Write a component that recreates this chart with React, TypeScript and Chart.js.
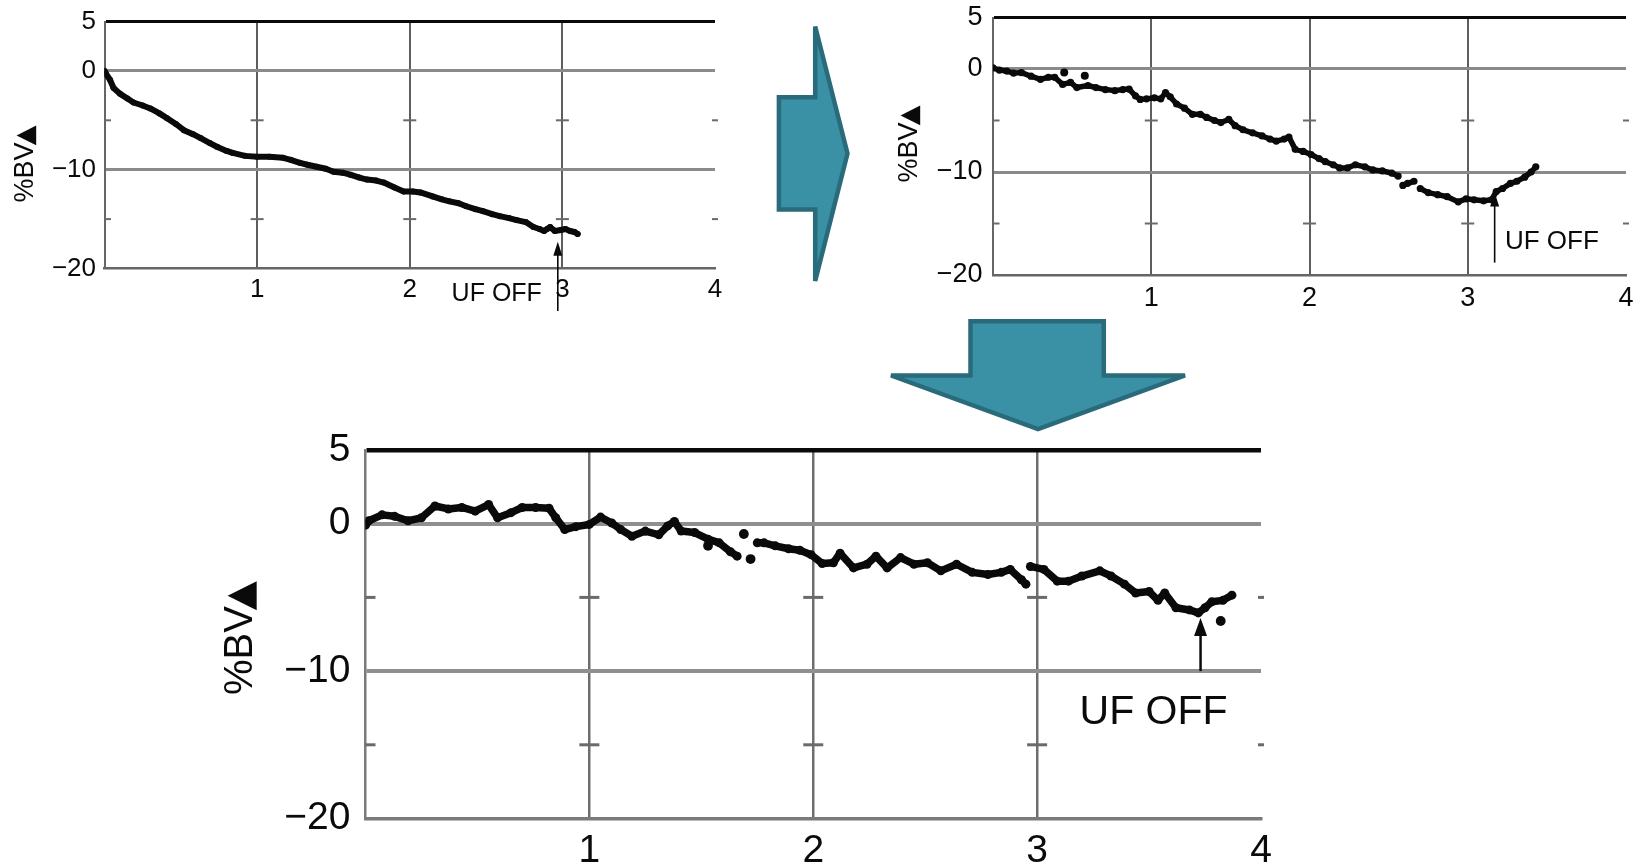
import React, { useEffect, useRef } from 'react';
import { Chart, registerables } from 'chart.js';

Chart.register(...registerables);

// ---------- text / tick labels ----------
const xTickValues = [1, 2, 3, 4];
const yTickLabelValues = [5, 0, -10, -20];
const yMinorTickValues = [-5, -15];
const xMarkValues = [0, 1, 2, 3, 4];
const axisTitleText = '%BV';
const axisTitleMark = '▲';
const ufLabel = 'UF OFF';

// ---------- panel 1 (top left) ----------
const hours1 = [0, 0.01, 0.036, 0.058, 0.1, 0.15, 0.19, 0.25, 0.3, 0.36, 0.41, 0.47, 0.52, 0.58, 0.63, 0.69, 0.74, 0.8, 0.84, 0.92, 1.0, 1.08, 1.17, 1.22, 1.28, 1.33, 1.39, 1.45, 1.5, 1.56, 1.61, 1.67, 1.72, 1.78, 1.83, 1.9, 1.96, 2.02, 2.07, 2.15, 2.21, 2.26, 2.32, 2.37, 2.43, 2.48, 2.54, 2.59, 2.65, 2.7, 2.76, 2.81, 2.85, 2.88, 2.9, 2.92, 2.95, 2.99, 3.02, 3.05, 3.08, 3.1];
const bv1 = [0, -0.3, -0.9, -1.7, -2.3, -2.8, -3.2, -3.5, -3.8, -4.3, -4.8, -5.4, -6.0, -6.4, -6.8, -7.3, -7.7, -8.1, -8.3, -8.6, -8.7, -8.7, -8.8, -9.0, -9.3, -9.5, -9.7, -9.9, -10.2, -10.3, -10.5, -10.8, -11.0, -11.1, -11.3, -11.8, -12.2, -12.2, -12.3, -12.7, -13.0, -13.2, -13.4, -13.7, -14.0, -14.2, -14.5, -14.7, -14.9, -15.1, -15.3, -15.8, -16.0, -16.2, -16.0, -15.8, -16.2, -16.1, -16.0, -16.2, -16.3, -16.5];
const strayHours1: number[] = [];
const strayBv1: number[] = [];
const ufOff1 = { x: 2.97, tip: -17.3, tail: -24.3 };

// ---------- panel 2 (top right) ----------
const hours2 = [0, 0.04, 0.087, 0.13, 0.18, 0.24, 0.3, 0.35, 0.39, 0.44, 0.49, 0.53, 0.6, 0.65, 0.71, 0.77, 0.82, 0.86, 0.9, 0.93, 0.97, 1.02, 1.06, 1.09, 1.12, 1.16, 1.21, 1.26, 1.31, 1.35, 1.4, 1.44, 1.49, 1.53, 1.58, 1.64, 1.7, 1.75, 1.79, 1.84, 1.87, 1.91, 1.96, 2.01, 2.06, 2.1, 2.15, 2.19, 2.24, 2.29, 2.35, 2.4, 2.46, 2.52, 2.56, 2.575, 2.59, 2.62, 2.66, 2.68, 2.7, 2.75, 2.81, 2.87, 2.94, 2.99, 3.04, 3.1, 3.15, 3.18, 3.22, 3.27, 3.31, 3.36, 3.4, 3.43];
const bv2 = [0.1, -0.1, -0.2, -0.4, -0.35, -0.7, -1.0, -0.8, -0.8, -1.5, -1.3, -1.8, -1.6, -1.8, -2.0, -2.1, -2.0, -1.95, -2.6, -2.95, -2.9, -2.8, -2.9, -2.3, -2.7, -3.4, -3.8, -4.4, -4.4, -4.7, -5.0, -5.2, -4.9, -5.5, -5.9, -6.2, -6.5, -6.8, -7.0, -6.8, -6.6, -7.8, -8.0, -8.3, -8.7, -9.0, -9.3, -9.6, -9.6, -9.3, -9.5, -9.8, -9.9, -10.1, -10.4, null, -11.3, -11.1, -10.9, null, -11.6, -12.0, -12.2, -12.4, -12.9, -12.6, -12.7, -12.8, -12.7, -11.9, -11.6, -11.1, -10.9, -10.5, -10.0, -9.5];
const strayHours2 = [0.45, 0.58];
const strayBv2 = [-0.35, -0.65];
const ufOff2 = { x: 3.17, tip: -12.0, tail: -18.8 };

// ---------- panel 3 (bottom) ----------
const hours3 = [0, 0.015, 0.074, 0.13, 0.19, 0.25, 0.31, 0.37, 0.43, 0.49, 0.55, 0.59, 0.65, 0.7, 0.76, 0.82, 0.85, 0.89, 0.94, 1.0, 1.05, 1.1, 1.14, 1.19, 1.25, 1.31, 1.35, 1.38, 1.41, 1.47, 1.53, 1.58, 1.63, 1.66, 1.7, 1.75, 1.78, 1.83, 1.89, 1.94, 1.99, 2.04, 2.09, 2.12, 2.18, 2.24, 2.28, 2.33, 2.39, 2.45, 2.51, 2.57, 2.64, 2.71, 2.78, 2.84, 2.88, 2.93, 2.95, 2.96, 2.97, 3.03, 3.09, 3.14, 3.2, 3.28, 3.33, 3.39, 3.44, 3.5, 3.54, 3.57, 3.62, 3.68, 3.72, 3.75, 3.78, 3.83, 3.87];
const bv3 = [-0.1, 0.2, 0.6, 0.5, 0.2, 0.4, 1.2, 1.0, 1.1, 0.85, 1.3, 0.4, 0.75, 1.1, 1.1, 1.05, 0.4, -0.4, -0.2, -0.05, 0.45, 0.05, -0.4, -0.85, -0.5, -0.75, -0.15, 0.15, -0.5, -0.6, -1.05, -1.3, -1.9, -2.2, null, -1.3, -1.3, -1.5, -1.7, -1.8, -2.1, -2.7, -2.65, -2.0, -3.0, -2.75, -2.2, -3.0, -2.3, -2.75, -2.65, -3.2, -2.75, -3.3, -3.45, -3.3, -3.1, -3.8, -4.1, null, -2.9, -3.1, -3.9, -3.9, -3.55, -3.2, -3.55, -4.1, -4.7, -4.6, -5.2, -4.7, -5.7, -5.85, -6.05, -5.7, -5.3, -5.2, -4.85];
const strayHours3 = [1.53, 1.69, 1.72, 3.82];
const strayBv3 = [-1.5, -0.7, -2.4, -6.6];
const ufOff3 = { x: 3.73, tip: -6.4, tail: -10 };

const FONT = '"Liberation Sans", Arial, "DejaVu Sans", sans-serif';
const MARK_FONT = '"DejaVu Sans", sans-serif';
const INK = '#0a0a0a';

const fmt = (v: number) => (v < 0 ? '\u2212' + Math.abs(v) : String(v));

const decorPlugin = {
  id: 'decor',
  beforeDatasetsDraw(chart: any, _args: any, o: any) {
    const { ctx } = chart;
    const xs = chart.scales.x;
    const ys = chart.scales.y;
    ctx.save();
    ctx.strokeStyle = '#6a6a6a';
    ctx.lineWidth = o.minorW;
    for (const v of yMinorTickValues) {
      const py = ys.getPixelForValue(v);
      for (const m of xMarkValues) {
        const px = xs.getPixelForValue(m);
        let a = px - o.minorLen / 2;
        let b = px + o.minorLen / 2;
        if (m === 0) a = px;
        if (m === 4) { a = px - 3; b = px + 3; }
        ctx.beginPath();
        ctx.moveTo(a, py);
        ctx.lineTo(b, py);
        ctx.stroke();
      }
    }
    ctx.restore();
  },
  afterDatasetsDraw(chart: any, _args: any, o: any) {
    const { ctx } = chart;
    const xs = chart.scales.x;
    const ys = chart.scales.y;
    ctx.save();
    // UF OFF arrow
    const ax = xs.getPixelForValue(o.uf.x);
    const tipY = ys.getPixelForValue(o.uf.tip);
    const tailY = ys.getPixelForValue(o.uf.tail);
    ctx.strokeStyle = INK;
    ctx.fillStyle = INK;
    ctx.lineWidth = o.arrowW;
    ctx.beginPath();
    ctx.moveTo(ax, tailY);
    ctx.lineTo(ax, tipY + o.headH * 0.6);
    ctx.stroke();
    ctx.beginPath();
    ctx.moveTo(ax, tipY);
    ctx.lineTo(ax - o.headW / 2, tipY + o.headH);
    ctx.lineTo(ax + o.headW / 2, tipY + o.headH);
    ctx.closePath();
    ctx.fill();
    // UF OFF text
    ctx.font = `${o.ufFont}px ${FONT}`;
    ctx.textAlign = o.ufAlign;
    ctx.textBaseline = 'middle';
    ctx.fillText(ufLabel, xs.getPixelForValue(o.ufTextX), ys.getPixelForValue(o.ufTextY));
    // y-axis title: "%BV" followed by a filled triangle glyph
    ctx.translate(o.titleX, o.titleY);
    ctx.rotate(-Math.PI / 2);
    ctx.font = `${o.titleFont}px ${FONT}`;
    const w1 = ctx.measureText(axisTitleText).width;
    const markSize = o.titleFont * 0.95;
    ctx.font = `${markSize}px ${MARK_FONT}`;
    const w2 = ctx.measureText(axisTitleMark).width;
    const gap = -o.titleFont * 0.1;
    const total = w1 + gap + w2;
    ctx.textAlign = 'left';
    ctx.textBaseline = 'alphabetic';
    const base = o.titleFont * 0.36;
    ctx.font = `${o.titleFont}px ${FONT}`;
    ctx.fillText(axisTitleText, -total / 2, base);
    ctx.font = `${markSize}px ${MARK_FONT}`;
    ctx.fillText(axisTitleMark, -total / 2 + w1 + gap, base);
    ctx.restore();
  },
};

type Spec = {
  left: number; top: number; width: number; height: number;
  yAxisWidth: number; xAxisHeight: number; padTop: number; padRight: number;
  tickFont: number; xPad: number; yPad: number;
  titleX: number; titleY: number; titleFont: number;
  uf: { x: number; tip: number; tail: number };
  ufTextX: number; ufTextY: number; ufFont: number; ufAlign: string;
  arrowW: number; headW: number; headH: number;
  hours: number[]; bv: (number | null)[]; strayHours: number[]; strayBv: number[];
  lineWidth: number; pointRadius: number;
  topW: number; midW: number; midColor: string; vColor: string; vW: number;
  bottomColor: string; bottomW: number; leftColor: string; leftW: number;
  minorLen: number; minorW: number;
};

const zeroPadding = (sc: any) => {
  sc.paddingTop = 0;
  sc.paddingBottom = 0;
  sc.paddingLeft = 0;
  sc.paddingRight = 0;
};

function BVChart({ s }: { s: Spec }) {
  const ref = useRef<HTMLCanvasElement>(null);
  useEffect(() => {
    const main = s.hours.map((x, i) => ({ x, y: s.bv[i] }));
    const stray = s.strayHours.map((x, i) => ({ x, y: s.strayBv[i] }));
    const tickFont = { family: FONT, size: s.tickFont, lineHeight: 1.2 };
    const chart = new Chart(ref.current as HTMLCanvasElement, {
      type: 'line',
      data: {
        datasets: [
          {
            data: main as any,
            borderColor: INK,
            backgroundColor: INK,
            borderWidth: s.lineWidth,
            pointRadius: s.pointRadius,
            pointBorderWidth: 0,
            tension: 0,
            spanGaps: false,
            borderJoinStyle: 'round',
            borderCapStyle: 'round',
          },
          {
            data: stray as any,
            showLine: false,
            backgroundColor: INK,
            borderColor: INK,
            pointRadius: s.pointRadius + 0.4,
            pointBorderWidth: 0,
          },
        ],
      },
      options: {
        responsive: false,
        animation: false,
        events: [],
        layout: { padding: { left: 0, top: s.padTop, right: s.padRight, bottom: 0 } },
        plugins: {
          legend: { display: false },
          tooltip: { enabled: false },
          decor: {
            minorLen: s.minorLen, minorW: s.minorW, uf: s.uf, arrowW: s.arrowW,
            headW: s.headW, headH: s.headH, ufFont: s.ufFont, ufAlign: s.ufAlign,
            ufTextX: s.ufTextX, ufTextY: s.ufTextY, titleX: s.titleX, titleY: s.titleY,
            titleFont: s.titleFont,
          },
        } as any,
        scales: {
          x: {
            type: 'linear',
            min: 0,
            max: 4,
            afterFit: (sc: any) => { sc.height = s.xAxisHeight; zeroPadding(sc); },
            ticks: {
              stepSize: 1,
              autoSkip: false,
              maxRotation: 0,
              padding: s.xPad,
              font: tickFont,
              color: INK,
              callback: (v: any) => (xTickValues.includes(Number(v)) ? String(v) : ''),
            },
            grid: {
              drawTicks: false,
              color: (c: any) => (c.tick && (c.tick.value === 0 || c.tick.value === 4) ? 'rgba(0,0,0,0)' : s.vColor),
              lineWidth: s.vW,
            },
            border: { display: true, color: s.bottomColor, width: s.bottomW },
          },
          y: {
            type: 'linear',
            min: -20,
            max: 5,
            afterFit: (sc: any) => { sc.width = s.yAxisWidth; zeroPadding(sc); },
            ticks: {
              stepSize: 5,
              autoSkip: false,
              padding: s.yPad,
              font: tickFont,
              color: INK,
              callback: (v: any) => (yTickLabelValues.includes(Number(v)) ? fmt(Number(v)) : ''),
            },
            grid: {
              drawTicks: false,
              color: (c: any) => {
                const v = c.tick ? c.tick.value : null;
                if (v === 5) return '#0a0a0a';
                if (v === 0 || v === -10) return s.midColor;
                return 'rgba(0,0,0,0)';
              },
              lineWidth: (c: any) => {
                const v = c.tick ? c.tick.value : null;
                if (v === 5) return s.topW;
                if (v === 0 || v === -10) return s.midW;
                return 1;
              },
            },
            border: { display: true, color: s.leftColor, width: s.leftW },
          },
        },
      },
      plugins: [decorPlugin as any],
    });
    return () => chart.destroy();
  }, []);
  return (
    <canvas
      ref={ref}
      width={s.width}
      height={s.height}
      style={{ position: 'absolute', left: s.left, top: s.top, width: s.width, height: s.height }}
    />
  );
}

const spec1: Spec = {
  left: 0, top: 0, width: 740, height: 320,
  yAxisWidth: 104.5, xAxisHeight: 51.5, padTop: 21.5, padRight: 25,
  tickFont: 26, xPad: 6, yPad: 8.5,
  titleX: 23, titleY: 164, titleFont: 27,
  uf: ufOff1, ufTextX: 2.57, ufTextY: -22.6, ufFont: 25, ufAlign: 'center',
  arrowW: 1.6, headW: 9, headH: 14,
  hours: hours1, bv: bv1, strayHours: strayHours1, strayBv: strayBv1,
  lineWidth: 6, pointRadius: 3,
  topW: 3, midW: 3, midColor: '#8a8a8a', vColor: '#5e5e5e', vW: 2,
  bottomColor: '#666666', bottomW: 2.5, leftColor: '#666666', leftW: 2,
  minorLen: 13, minorW: 2,
};

const spec2: Spec = {
  left: 860, top: 0, width: 779, height: 310,
  yAxisWidth: 133, xAxisHeight: 35, padTop: 17.5, padRight: 13,
  tickFont: 27, xPad: 7, yPad: 10.5,
  titleX: 47, titleY: 144, titleFont: 27,
  uf: ufOff2, ufTextX: 3.235, ufTextY: -16.8, ufFont: 26, ufAlign: 'left',
  arrowW: 1.6, headW: 9, headH: 14,
  hours: hours2, bv: bv2, strayHours: strayHours2, strayBv: strayBv2,
  lineWidth: 5.5, pointRadius: 3.6,
  topW: 3, midW: 3, midColor: '#8a8a8a', vColor: '#5e5e5e', vW: 2,
  bottomColor: '#666666', bottomW: 2.5, leftColor: '#666666', leftW: 2,
  minorLen: 13, minorW: 2,
};

const spec3: Spec = {
  left: 200, top: 420, width: 1100, height: 445,
  yAxisWidth: 165.5, xAxisHeight: 46.5, padTop: 30, padRight: 39,
  tickFont: 39, xPad: 9, yPad: 15,
  titleX: 38, titleY: 218, titleFont: 40,
  uf: ufOff3, ufTextX: 3.52, ufTextY: -12.8, ufFont: 41, ufAlign: 'center',
  arrowW: 2.5, headW: 13, headH: 18,
  hours: hours3, bv: bv3, strayHours: strayHours3, strayBv: strayBv3,
  lineWidth: 7.5, pointRadius: 4.5,
  topW: 4.5, midW: 4, midColor: '#8f8f8f', vColor: '#6e6e6e', vW: 2.5,
  bottomColor: '#7a7a7a', bottomW: 3.5, leftColor: '#7a7a7a', leftW: 2.5,
  minorLen: 20, minorW: 3,
};

const ARROW_FILL = '#3a90a4';
const ARROW_EDGE = '#2a6b7b';

export default function App() {
  return (
    <div style={{ position: 'fixed', left: 0, top: 0, width: 1639, height: 865, background: '#ffffff', overflow: 'hidden' }}>
      <BVChart s={spec1} />
      <BVChart s={spec2} />
      <BVChart s={spec3} />
      <svg width={1639} height={865} style={{ position: 'absolute', left: 0, top: 0, pointerEvents: 'none' }}>
        <polygon
          points="778.9,97.2 815.2,97.2 815.2,26.5 847.5,153.5 815.2,281 815.2,209.5 778.9,209.5"
          fill={ARROW_FILL}
          stroke={ARROW_EDGE}
          strokeWidth={4.5}
          strokeLinejoin="miter"
        />
        <polygon
          points="970.5,321.2 1103.8,321.2 1103.8,375.5 1185,375.5 1038,429 891,375.5 970.5,375.5"
          fill={ARROW_FILL}
          stroke={ARROW_EDGE}
          strokeWidth={4.5}
          strokeLinejoin="miter"
        />
      </svg>
    </div>
  );
}
